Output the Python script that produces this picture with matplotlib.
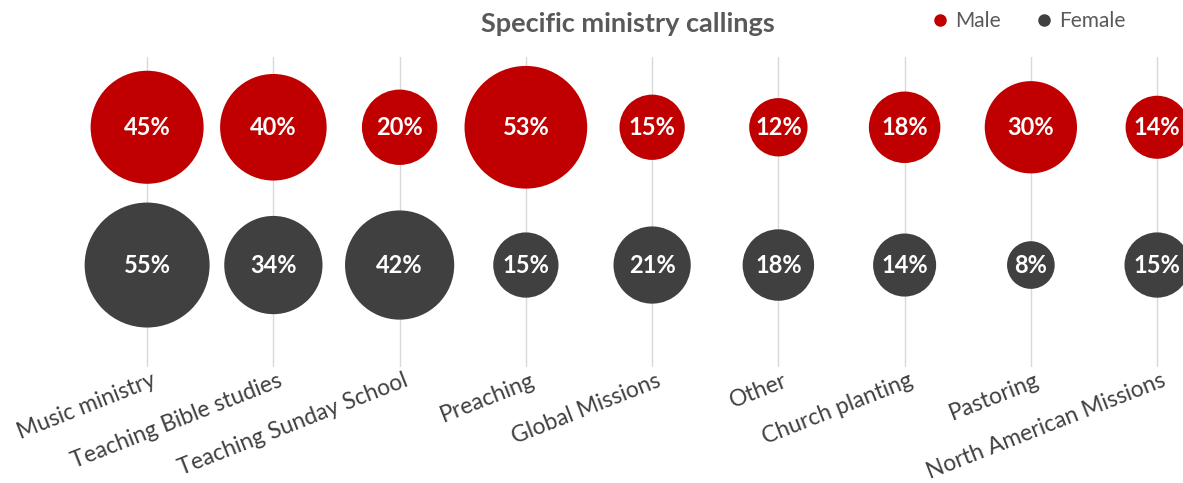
import matplotlib.pyplot as plt
from matplotlib.lines import Line2D
from matplotlib.transforms import ScaledTranslation

categorias = ["Music ministry", "Teaching Bible studies", "Teaching Sunday School",
              "Preaching", "Global Missions", "Other", "Church planting",
              "Pastoring", "North American Missions"]
masculino = [45, 40, 20, 53, 15, 12, 18, 30, 14]
feminino = [55, 34, 42, 15, 21, 18, 14, 8, 15]

cor_m = "#C00000"
cor_f = "#404040"
fonte = "Lato"

fig = plt.figure(figsize=(11.83, 4.83), dpi=100)
# eixo em coordenadas de pixel da figura
ax = fig.add_axes([84 / 1183, 116 / 483, 1099 / 1183, 310 / 483])
ax.set_xlim(-0.5, 8.205)
ax.set_ylim(0.26, 2.51)

xs = list(range(len(categorias)))
# diametro ~16.85 px * sqrt(valor) -> area em pt^2
escala = (16.85 * 0.72) ** 2

for x in xs:
    ax.axvline(x, color="#D9D9D9", lw=1.0, zorder=0)

ax.scatter(xs, [2] * len(xs), s=[escala * v for v in masculino], color=cor_m, zorder=2, linewidths=0)
ax.scatter(xs, [1] * len(xs), s=[escala * v for v in feminino], color=cor_f, zorder=2, linewidths=0)

for x, v in zip(xs, masculino):
    ax.text(x, 2, f"{v}%", color="white", ha="center", va="center", fontsize=17,
            fontweight="bold", family=fonte, zorder=3)
for x, v in zip(xs, feminino):
    ax.text(x, 1, f"{v}%", color="white", ha="center", va="center", fontsize=17,
            fontweight="bold", family=fonte, zorder=3)

ax.set_xticks(xs)
ax.set_xticklabels(categorias, rotation=21.5, ha="right", rotation_mode="anchor",
                   fontsize=16.5, family=fonte, color="#404040")
ax.tick_params(axis="x", length=0, pad=2)
desloc = ScaledTranslation(4 / 100, 0, fig.dpi_scale_trans)
for lbl in ax.get_xticklabels():
    lbl.set_transform(lbl.get_transform() + desloc)
ax.set_yticks([])
for s in ax.spines.values():
    s.set_visible(False)

fig.text(628 / 1183, 1 - 24 / 483, "Specific ministry callings", ha="center", va="center",
         fontsize=19.5, fontweight="bold", family=fonte, color="#595959")

handles = [Line2D([], [], marker="o", ls="", color=cor_m, markersize=8),
           Line2D([], [], marker="o", ls="", color=cor_f, markersize=8)]
fig.legend(handles, ["Male", "Female"], loc="center right", bbox_to_anchor=(1144 / 1183, 1 - 21 / 483),
           ncol=2, frameon=False, prop={"family": fonte, "size": 15}, labelcolor="#595959",
           handletextpad=0.1, columnspacing=1.5, handlelength=1.2)

fig.savefig("out.png", dpi=100)
